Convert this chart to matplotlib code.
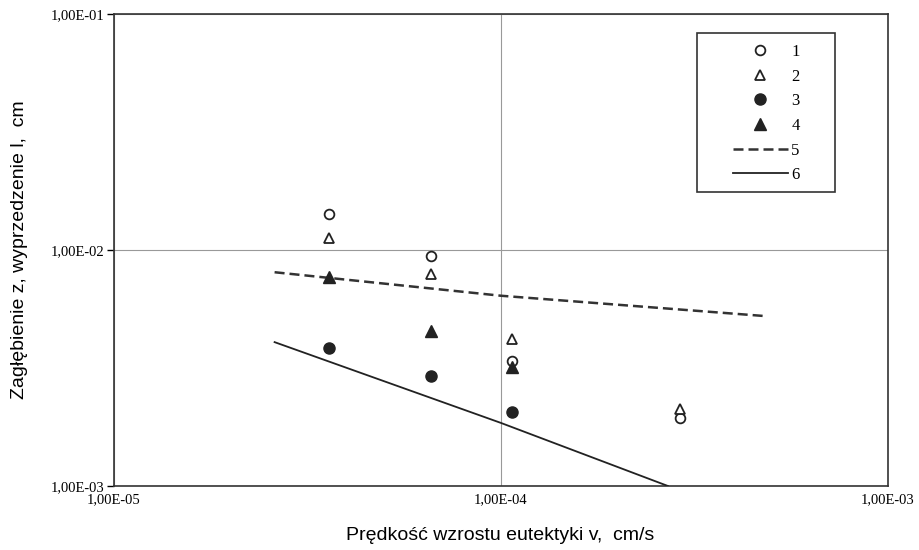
import matplotlib
matplotlib.use("Agg")
import matplotlib.pyplot as plt
from matplotlib.ticker import FixedLocator, FuncFormatter, NullLocator
from matplotlib.lines import Line2D
from matplotlib.patches import Rectangle

# data
v_s1 = [3.6e-5, 6.6e-5, 1.07e-4, 2.9e-4]
z_s1 = [1.42e-2, 9.4e-3, 3.4e-3, 1.94e-3]
v_s2 = [3.6e-5, 6.6e-5, 1.07e-4, 2.9e-4]
z_s2 = [1.12e-2, 7.9e-3, 4.2e-3, 2.12e-3]
v_s3 = [3.6e-5, 6.6e-5, 1.07e-4]
z_s3 = [3.85e-3, 2.92e-3, 2.06e-3]
v_s4 = [3.6e-5, 6.6e-5, 1.07e-4]
z_s4 = [7.7e-3, 4.54e-3, 3.19e-3]
v_l5 = [2.6e-5, 1.0e-4, 4.8e-4]
z_l5 = [8.05e-3, 6.4e-3, 5.25e-3]
v_l6 = [2.6e-5, 1.0e-4, 2.7e-4]
z_l6 = [4.07e-3, 1.85e-3, 1.0e-3]
labels = ["1", "2", "3", "4", "5", "6"]
xticks = [1e-5, 1e-4, 1e-3]
yticks = [1e-3, 1e-2, 1e-1]

W, H = 920, 550
fig = plt.figure(figsize=(9.2, 5.5), dpi=100)
ax = fig.add_axes([114/W, 1-486/H, (888-114)/W, (486-14)/H])
ax.set_xscale("log")
ax.set_yscale("log")
ax.set_xlim(1e-5, 1e-3)
ax.set_ylim(1e-3, 1e-1)

ms = 7
ax.plot(v_s1, z_s1, ls="none", marker="o", mfc="white", mec="#222222", mew=1.3, ms=ms, zorder=4)
ax.plot(v_s2, z_s2, ls="none", marker="^", mfc="white", mec="#222222", mew=1.3, ms=ms, zorder=4)
ax.plot(v_s3, z_s3, ls="none", marker="o", mfc="#222222", mec="#222222", ms=ms+1, zorder=4)
ax.plot(v_s4, z_s4, ls="none", marker="^", mfc="#222222", mec="#222222", ms=ms+1, zorder=4)
ax.plot(v_l5, z_l5, ls=(0, (4, 2)), color="#333333", lw=1.8, zorder=3)
ax.plot(v_l6, z_l6, ls="-", color="#222222", lw=1.3, zorder=3)

def fmt(val, pos):
    s = "%.2E" % val
    mant, exp = s.split("E")
    e = int(exp)
    return "%s%s%s%02d" % (mant.replace(".", ","), "E", "-" if e < 0 else "+", abs(e))

ax.xaxis.set_major_locator(FixedLocator(xticks))
ax.yaxis.set_major_locator(FixedLocator(yticks))
ax.xaxis.set_minor_locator(NullLocator())
ax.yaxis.set_minor_locator(NullLocator())
ax.xaxis.set_major_formatter(FuncFormatter(fmt))
ax.yaxis.set_major_formatter(FuncFormatter(fmt))
for lab in ax.get_xticklabels() + ax.get_yticklabels():
    lab.set_fontfamily("Liberation Serif")
    lab.set_fontsize(10.5)
ax.tick_params(axis="x", length=0, pad=5)
ax.tick_params(axis="y", length=5, width=1, pad=2)

ax.grid(True, which="major", color="#999999", lw=0.8)
for sp in ax.spines.values():
    sp.set_color("#333333")
    sp.set_linewidth(1.2)

ax.set_xlabel("Prędkość wzrostu eutektyki v,  cm/s", fontfamily="Liberation Sans", fontsize=14)
ax.set_ylabel("Zagłębienie z, wyprzedzenie l,  cm", fontfamily="Liberation Sans", fontsize=14)
ax.xaxis.set_label_coords((500-114)/774, (486-527)/472)
ax.yaxis.set_label_coords((28-114)/774, 0.5)

handles = [
    Line2D([], [], ls="none", marker="o", mfc="white", mec="#222222", mew=1.3, ms=ms),
    Line2D([], [], ls="none", marker="^", mfc="white", mec="#222222", mew=1.3, ms=ms),
    Line2D([], [], ls="none", marker="o", mfc="#222222", mec="#222222", ms=ms+1),
    Line2D([], [], ls="none", marker="^", mfc="#222222", mec="#222222", ms=ms+1),
    Line2D([], [], ls=(0, (4, 2)), color="#333333", lw=1.8),
    Line2D([], [], ls="-", color="#222222", lw=1.3),
]
leg = fig.legend(handles, labels, loc="upper left", bbox_to_anchor=(733/W, 1-44/H),
                 prop={"family": "Liberation Serif", "size": 12}, frameon=False,
                 handlelength=3.3, handletextpad=0.2,
                 labelspacing=0.52, borderpad=0, borderaxespad=0)
fig.patches.append(Rectangle((697/W, 1-192/H), (835-697)/W, (192-33)/H,
                             transform=fig.transFigure, fill=False,
                             edgecolor="#333333", lw=1.2, zorder=10))

fig.savefig("out.png", dpi=100)
